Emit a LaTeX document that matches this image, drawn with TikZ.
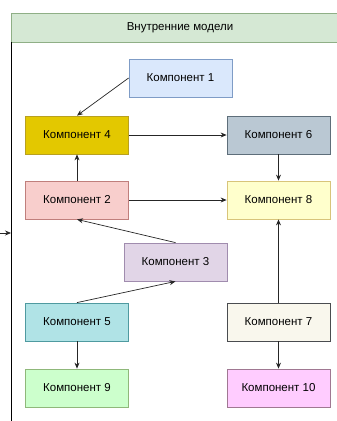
\documentclass[tikz,border=0pt]{standalone}
\usepackage{fontspec}
\setmainfont{Liberation Sans}
\usetikzlibrary{arrows.meta}
\definecolor{c1}{HTML}{DAE8FC}\definecolor{d1}{HTML}{7F9CC6}
\definecolor{c2}{HTML}{F8CECC}\definecolor{d2}{HTML}{C07F7C}
\definecolor{c3}{HTML}{E1D5E7}\definecolor{d3}{HTML}{A08CAE}
\definecolor{c4}{HTML}{E3C800}\definecolor{d4}{HTML}{B8A020}
\definecolor{c5}{HTML}{B0E3E6}\definecolor{d5}{HTML}{4F9AA0}
\definecolor{c6}{HTML}{BAC8D3}\definecolor{d6}{HTML}{5E6E7A}
\definecolor{c7}{HTML}{F9F7ED}\definecolor{d7}{HTML}{4A4C50}
\definecolor{c8}{HTML}{FFFFCC}\definecolor{d8}{HTML}{D8C47A}
\definecolor{c9}{HTML}{CCFFCC}\definecolor{d9}{HTML}{8FB87A}
\definecolor{c10}{HTML}{FFCCFF}\definecolor{d10}{HTML}{A07892}
\definecolor{hdr}{HTML}{D5E8D4}\definecolor{hdrline}{HTML}{8FAF86}
\tikzset{
  comp/.style={draw,line width=.8pt,minimum width=103pt,minimum height=38pt,inner sep=0pt},
  link/.style={draw=black!85,line width=.7pt,-{Stealth[length=6pt,width=5pt]}}
}
\begin{document}
\begin{tikzpicture}[x=1pt,y=-1pt,font=\fontsize{11.5}{13}\selectfont]
	\useasboundingbox (0,0) rectangle (337,421);
	% container
	\draw[fill=hdr,draw=hdrline,line width=.8pt] (11,13) rectangle (345,42);
	\node (title) at (180,28) {Внутренние модели};
	\draw[line width=.9pt] (11,42) -- (11,425);
	\path (0,233) coordinate (in) (11,233) coordinate (edge);
	% components
	\foreach \n/\x/\y in {1/180.5/78,4/77/135,6/278.5/135,2/77/200,8/278.5/200,
		3/175.5/262,5/77/322,7/278.5/322,9/77/388,10/278.5/388}
		\node[comp,fill=c\n,draw=d\n] (k\n) at (\x,\y) {Компонент \n};
	\draw[link] (k1.west) -- (k4.north);
	\draw[link] (k4) -- (k6);
	\draw[link] (k6) -- (k8);
	\draw[link] (k2) -- (k4);
	\draw[link] (k2) -- (k8);
	\draw[link] (k3.north) -- (k2.south);
	\draw[link] (k5.north) -- (k3.south);
	\draw[link] (k7) -- (k8);
	\draw[link] (k5) -- (k9);
	\draw[link] (k7) -- (k10);
	\draw[link] (in) -- (edge);
\end{tikzpicture}
\end{document}
